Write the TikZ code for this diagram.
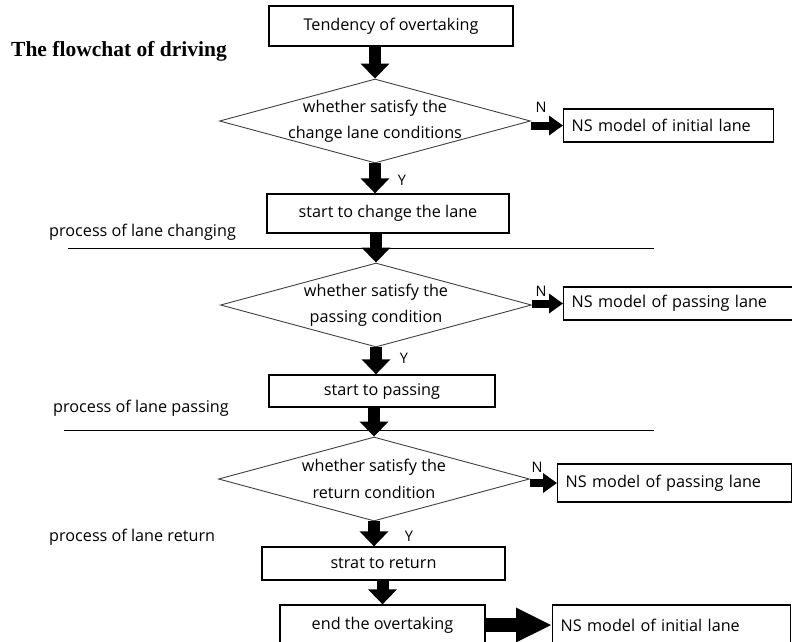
\documentclass[tikz,border=0pt]{standalone}
\usepackage{fontspec}
\setmainfont{Open Sans}
\newfontfamily\titlefont{Liberation Serif}
\usetikzlibrary{shapes.geometric,arrows.meta}

\tikzset{
  box/.style={draw, line width=1.3pt, inner sep=2pt},
  nsbox/.style={draw, line width=1.3pt, anchor=west, align=left, inner xsep=8pt, text width=#1},
  choice/.style={diamond, draw=black!75, line width=0.9pt, aspect=3.6, inner sep=-4pt,
    align=center, minimum width=311pt, minimum height=84pt},
  bigarrow/.style={line width=12pt, -{Triangle[length=15pt,width=28pt]}},
  sidearrow/.style={line width=8pt, -{Triangle[length=14pt,width=19pt]}},
  endarrow/.style={line width=14pt, -{Triangle[length=36pt,width=32pt]}},
  yn/.style={font=\fontsize{14.5}{16}\selectfont, inner sep=0pt},
}

\begin{document}
\begin{tikzpicture}[x=1pt, y=-1pt, font=\fontsize{16.2}{26.5}\selectfont]
      \useasboundingbox (0,0) rectangle (792,641);
      \node[box, minimum width=244pt, minimum height=40pt] (b1) at (391,26) {Tendency of overtaking};
      \node[font=\titlefont\bfseries\fontsize{21.5}{24}\selectfont] (title) at (119,51) {The flowchat of driving};
      \node[choice] (d1) at (375,121) {whether satisfy the\\change lane conditions};
      \node[nsbox=194pt, minimum height=33pt] (m1) at (563,125.5) {NS model of initial lane};
      \node[box, minimum width=242pt, minimum height=39pt] (b2) at (388,213.5) {start to change the lane};
      \node[anchor=west, inner sep=0pt] (p1) at (49,232) {process of lane changing};
      \node[choice] (d2) at (376,305) {whether satisfy the\\passing condition};
      \node[nsbox=216pt, minimum height=33pt] (m2) at (563,303.5) {NS model of passing lane};
      \node[box, minimum width=226pt, minimum height=32pt] (b3) at (382,391) {start to passing};
      \node[anchor=west, inner sep=0pt] (p2) at (53,408) {process of lane passing};
      \node[choice] (d3) at (374,479) {whether satisfy the\\return condition};
      \node[nsbox=218pt, minimum height=38pt] (m3) at (557,483) {NS model of passing lane};
      \node[anchor=west, inner sep=0pt] (p3) at (49,537) {process of lane return};
      \node[box, minimum width=243pt, minimum height=33pt] (b4) at (383.5,563.5) {strat to return};
      \node[box, minimum width=205pt, minimum height=40pt] (b5) at (382.5,625) {end the overtaking};
      \node[nsbox=222pt, minimum height=40pt] (m4) at (552,625) {NS model of initial lane};
      \node[yn] (n1) at (541,107) {N};
      \node[yn] (y1) at (402,180) {Y};
      \node[yn] (n2) at (541,291) {N};
      \node[yn] (y2) at (404,358) {Y};
      \node[yn] (n3) at (537,467) {N};
      \node[yn] (y3) at (409,536) {Y};
      \draw[line width=1pt] (68,248) -- (654,248);
      \draw[line width=1pt] (64,430) -- (654,430);
      \draw[bigarrow] (d1.north |- b1.south) -- (d1.north);
      \draw[sidearrow] (m1.west -| d1.east) -- (m1.west);
      \draw[bigarrow] (d1.south) -- (d1.south |- b2.north);
      \draw[bigarrow] (d2.north |- b2.south) -- (d2.north);
      \draw[sidearrow] (m2.west -| d2.east) -- (m2.west);
      \draw[bigarrow] (d2.south) -- (d2.south |- b3.north);
      \draw[bigarrow] (d3.north |- b3.south) -- (d3.north);
      \draw[sidearrow] (m3.west -| d3.east) -- (m3.west);
      \draw[bigarrow] (d3.south) -- (d3.south |- b4.north);
      \draw[bigarrow] (b5.north |- b4.south) -- (b5.north);
      \draw[endarrow] (b5.east) -- (m4.west);
    \end{tikzpicture}
\end{document}
